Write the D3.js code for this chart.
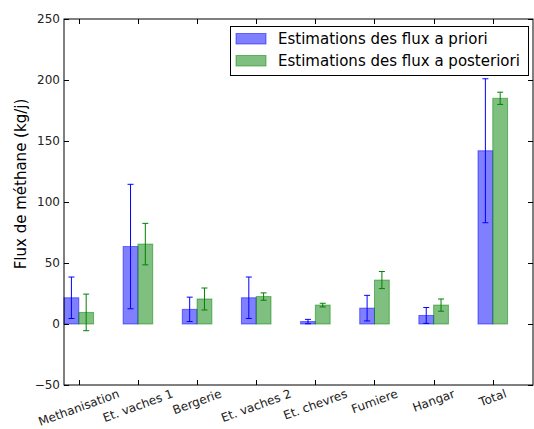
<!DOCTYPE html>
<html>
<head>
<meta charset="utf-8">
<script src="https://cdn.jsdelivr.net/npm/d3@7"></script>
<style>
  html, body { margin: 0; padding: 0; background: #fff; }
  svg { display: block; font-family: "DejaVu Sans", sans-serif; }
</style>
</head>
<body>
<svg id="chart" width="534" height="429"></svg>
<script>
const categories = ["Methanisation", "Et. vaches 1", "Bergerie", "Et. vaches 2", "Et. chevres", "Fumiere", "Hangar", "Total"];
const priorValues = [21.5, 63.5, 12, 21.5, 2, 13, 7, 142];
const priorErrors = [17, 51, 10, 17, 1.8, 10.5, 6.5, 59];
const posteriorValues = [9.5, 65.5, 20.5, 22.5, 15.5, 36, 15.5, 185];
const posteriorErrors = [15, 17, 9, 3, 1.5, 7, 5, 5];
const yTicks = [-50, 0, 50, 100, 150, 200, 250];
const seriesNames = ["Estimations des flux a priori", "Estimations des flux a posteriori"];
const yLabel = "Flux de méthane (kg/j)";

const svg = d3.select("#chart");
const L = 64, R = 533, T = 19, B = 385;
const barW = 0.25;
const x = d3.scaleLinear().domain([-0.25, 7.68]).range([L, R]);
const y = d3.scaleLinear().domain([-50, 250]).range([B, T]);

const series = [
  { vals: priorValues, errs: priorErrors, fill: "rgba(0,0,255,0.5)", stroke: "rgba(0,0,255,0.5)", err: "#0000ff", off: -barW },
  { vals: posteriorValues, errs: posteriorErrors, fill: "rgba(0,128,0,0.5)", stroke: "rgba(0,128,0,0.5)", err: "#008000", off: 0 }
];

const pxW = x(barW) - x(0);
series.forEach(s => {
  const g = svg.append("g");
  g.selectAll("rect").data(s.vals).enter().append("rect")
    .attr("x", (d, i) => x(i + s.off))
    .attr("y", d => y(Math.max(0, d)))
    .attr("width", pxW)
    .attr("height", d => Math.abs(y(d) - y(0)))
    .attr("fill", s.fill)
    .attr("stroke", s.stroke)
    .attr("stroke-width", 1);
});
series.forEach(s => {
  const g = svg.append("g");
  s.vals.forEach((d, i) => {
    const cx = x(i + s.off + barW / 2);
    const y1 = y(d + s.errs[i]), y2 = y(d - s.errs[i]);
    g.append("line").attr("x1", cx).attr("x2", cx).attr("y1", y1).attr("y2", y2)
      .attr("stroke", s.err).attr("stroke-width", 1);
    [y1, y2].forEach(yy => g.append("line").attr("x1", cx - 3).attr("x2", cx + 3)
      .attr("y1", yy).attr("y2", yy).attr("stroke", s.err).attr("stroke-width", 1));
  });
});

// frame
svg.append("rect").attr("x", L).attr("y", T).attr("width", R - L).attr("height", B - T)
  .attr("fill", "none").attr("stroke", "#000").attr("stroke-width", 1);

// y ticks (left & right, inward)
const tl = 5;
yTicks.forEach(v => {
  const yy = Math.round(y(v)) + 0.5;
  svg.append("line").attr("x1", L).attr("x2", L + tl).attr("y1", yy).attr("y2", yy).attr("stroke", "#000");
  svg.append("line").attr("x1", R - tl).attr("x2", R).attr("y1", yy).attr("y2", yy).attr("stroke", "#000");
  svg.append("text").attr("x", L - 4).attr("y", y(v)).attr("dy", "0.36em")
    .attr("text-anchor", "end").attr("font-size", 12).attr("fill", "#222")
    .text(v < 0 ? "\u2212" + Math.abs(v) : String(v));
});

// x ticks (bottom & top, inward) and labels
categories.forEach((c, i) => {
  const xx = Math.round(x(i)) + 0.5;
  svg.append("line").attr("x1", xx).attr("x2", xx).attr("y1", B).attr("y2", B - tl).attr("stroke", "#000");
  svg.append("line").attr("x1", xx).attr("x2", xx).attr("y1", T).attr("y2", T + tl).attr("stroke", "#000");
  const t = svg.append("text").attr("font-size", 12).attr("fill", "#222")
    .attr("text-anchor", "middle").attr("dominant-baseline", "central").text(c);
  const w = t.node().getComputedTextLength();
  const h = 12 * 1.1;
  const ang = 20 * Math.PI / 180;
  const H = w * Math.sin(ang) + h * Math.cos(ang);
  const cy = B + 2 + H / 2;
  t.attr("transform", `translate(${x(i)},${cy}) rotate(-20)`);
});

// y label
svg.append("text").attr("transform", "translate(26,184) rotate(-90)")
  .attr("text-anchor", "middle").attr("font-size", 15).attr("fill", "#000").text(yLabel);

// legend
const lg = svg.append("g");
lg.append("rect").attr("x", 230.5).attr("y", 26.5).attr("width", 298).attr("height", 49)
  .attr("fill", "#fff").attr("stroke", "#000").attr("stroke-width", 1);
series.forEach((s, k) => {
  const yy = 33.5 + k * 22;
  lg.append("rect").attr("x", 236).attr("y", yy).attr("width", 30).attr("height", 10.5)
    .attr("fill", s.fill).attr("stroke", s.stroke);
  lg.append("text").attr("x", 278).attr("y", yy + 5.5).attr("dy", "0.36em")
    .attr("font-size", 15).attr("fill", "#000").text(seriesNames[k]);
});
</script>
</body>
</html>
